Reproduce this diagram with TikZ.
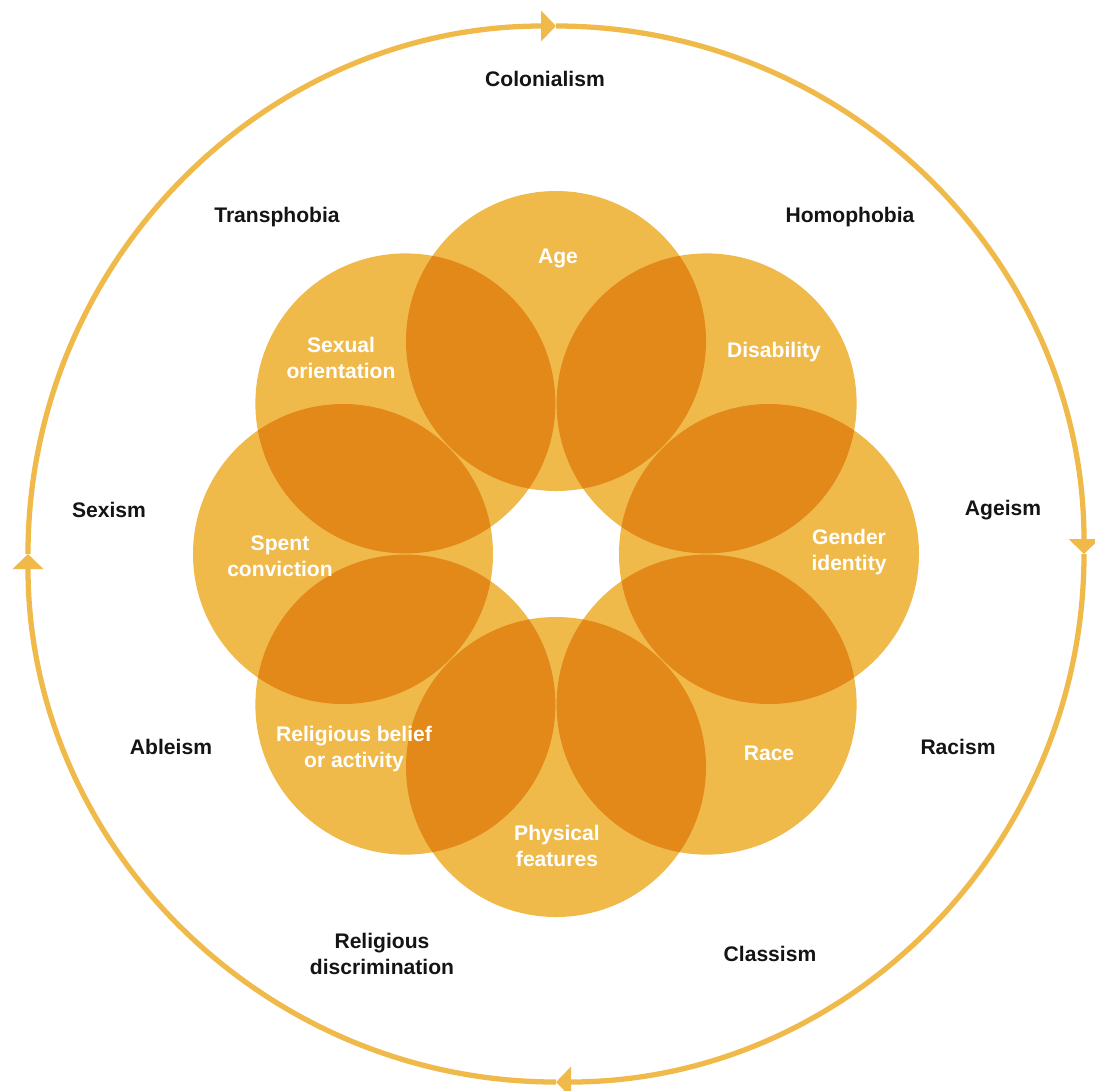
\documentclass[tikz,border=0pt]{standalone}
\usepackage{fontspec}
\setmainfont{Liberation Sans}
\usetikzlibrary{arrows.meta}

\definecolor{ringgold}{HTML}{F0BA4B}
\definecolor{lensorange}{HTML}{E2891A}
\definecolor{inkblack}{HTML}{141414}

\begin{document}
\begin{tikzpicture}[
  every node/.style={font=\fontsize{6}{7.4}\selectfont\bfseries, align=center},
  petal/.style={circle, minimum size=3cm, inner sep=0pt, fill=ringgold},
  ring/.style={ringgold, line width=1.5pt, -{Triangle[width=0.3cm,length=0.15cm]}},
  outer/.style={text=inkblack},
  inner/.style={text=white}
]
\useasboundingbox (-5.56,-5.36) rectangle (5.39,5.54);

% Outer ring, clockwise
\foreach \a in {180,90,0,-90}
  \draw[ring] (\a:5.28) arc[start angle=\a, end angle=\a-90, radius=5.28];

% Petals
\node[petal] (age) at (90:2.13) {};
\node[petal] (disab) at (45:2.13) {};
\node[petal] (gender) at (0:2.13) {};
\node[petal] (race) at (-45:2.13) {};
\node[petal] (phys) at (-90:2.13) {};
\node[petal] (relig) at (-135:2.13) {};
\node[petal] (spent) at (180:2.13) {};
\node[petal] (sexor) at (135:2.13) {};

% Overlaps
\foreach \p/\q in {age/disab, disab/gender, gender/race, race/phys,
                   phys/relig, relig/spent, spent/sexor, sexor/age}
{
  \begin{scope}
    \clip (\p.center) circle (1.5);
    \fill[lensorange] (\q.center) circle (1.5);
  \end{scope}
}

% Petal labels
\node[inner] (agetxt) at (0.02,2.96) {Age};
\node[inner] (disabtxt) at (2.18,2.02) {Disability};
\node[inner] (gendertxt) at (2.93,0.02) {Gender\\identity};
\node[inner] (racetxt) at (2.13,-1.99) {Race};
\node[inner] (phystxt) at (0.01,-2.92) {Physical\\features};
\node[inner] (religtxt) at (-2.02,-1.95) {Religious belief\\or activity};
\node[inner] (spenttxt) at (-2.76,-0.02) {Spent\\conviction};
\node[inner] (sexortxt) at (-2.15,1.96) {Sexual\\orientation};

% Ring labels
\node[outer] (colon) at (-0.11,4.75) {Colonialism};
\node[outer] (homo) at (2.94,3.37) {Homophobia};
\node[outer] (ageism) at (4.47,0.44) {Ageism};
\node[outer] (racism) at (4.02,-1.93) {Racism};
\node[outer] (class) at (2.14,-4.00) {Classism};
\node[outer] (religdisc) at (-1.74,-4.00) {Religious\\discrimination};
\node[outer] (ableism) at (-3.85,-1.93) {Ableism};
\node[outer] (sexism) at (-4.47,0.44) {Sexism};
\node[outer] (trans) at (-2.79,3.37) {Transphobia};
\end{tikzpicture}
\end{document}
